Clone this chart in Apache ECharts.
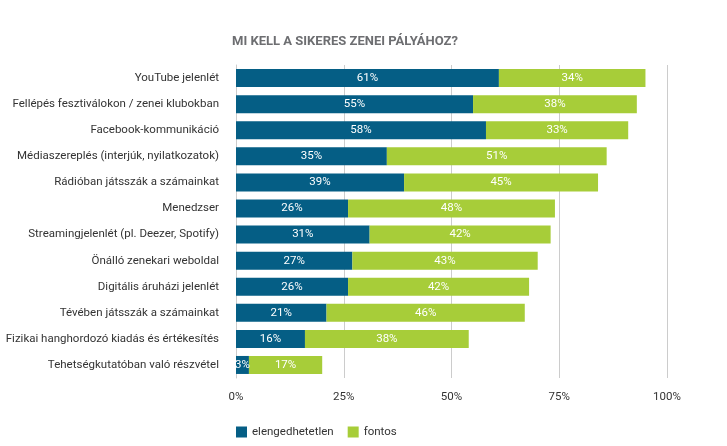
<!DOCTYPE html>
<html>
<head>
<meta charset="utf-8">
<script src="https://cdn.jsdelivr.net/npm/echarts@6/dist/echarts.min.js"></script>
<style>html,body{margin:0;padding:0;background:#fff}#c{width:727px;height:446px}</style>
</head>
<body>
<div id="c"></div>
<script>
var categories = [
  "YouTube jelenlét",
  "Fellépés fesztiválokon / zenei klubokban",
  "Facebook-kommunikáció",
  "Médiaszereplés (interjúk, nyilatkozatok)",
  "Rádióban játsszák a számainkat",
  "Menedzser",
  "Streamingjelenlét (pl. Deezer, Spotify)",
  "Önálló zenekari weboldal",
  "Digitális áruházi jelenlét",
  "Tévében játsszák a számainkat",
  "Fizikai hanghordozó kiadás és értékesítés",
  "Tehetségkutatóban való részvétel"
];
var elengedhetetlen = [61, 55, 58, 35, 39, 26, 31, 27, 26, 21, 16, 3];
var fontos = [34, 38, 33, 51, 45, 48, 42, 43, 42, 46, 38, 17];
var xTicks = [0, 25, 50, 75, 100];

var FONT = 'Roboto';
var chart = echarts.init(document.getElementById('c'));
chart.setOption({
  animation: false,
  textStyle: {fontFamily: FONT},
  title: {
    text: 'MI KELL A SIKERES ZENEI PÁLYÁHOZ?',
    left: 227, top: 30,
    textStyle: {fontFamily: FONT, fontSize: 13, fontWeight: 'bold', color: '#6d6e71'}
  },
  legend: {
    left: 231, top: 421,
    itemWidth: 11, itemHeight: 11, itemGap: 14,
    icon: 'rect',
    textStyle: {fontFamily: FONT, fontSize: 11.5, color: '#333'},
    data: ['elengedhetetlen', 'fontos']
  },
  grid: {left: 236, right: 60, top: 65, height: 313, containLabel: false},
  xAxis: {
    type: 'value', min: 0, max: 100, interval: 25,
    axisLine: {show: false},
    axisTick: {show: false},
    splitLine: {show: true, lineStyle: {color: '#cccccc', width: 1}},
    axisLabel: {
      margin: 13, fontFamily: FONT, fontSize: 11.5, color: '#333',
      formatter: function (v) { return xTicks.indexOf(v) >= 0 ? v + '%' : ''; }
    }
  },
  yAxis: {
    type: 'category', inverse: true, data: categories,
    axisLine: {show: true, lineStyle: {color: '#cccccc'}},
    axisTick: {show: false},
    axisLabel: {margin: 17, fontFamily: FONT, fontSize: 11.5, color: '#333'}
  },
  series: [
    {
      name: 'elengedhetetlen', type: 'bar', stack: 'a', data: elengedhetetlen,
      barWidth: 18,
      itemStyle: {color: '#055e85'},
      label: {show: true, position: 'inside', color: '#fff', fontFamily: FONT, fontSize: 11.5,
        formatter: '{c}%'}
    },
    {
      name: 'fontos', type: 'bar', stack: 'a', data: fontos,
      barWidth: 18,
      itemStyle: {color: '#a7cd39'},
      label: {show: true, position: 'inside', color: '#fff', fontFamily: FONT, fontSize: 11.5,
        formatter: '{c}%'}
    }
  ]
});
</script>
</body>
</html>
